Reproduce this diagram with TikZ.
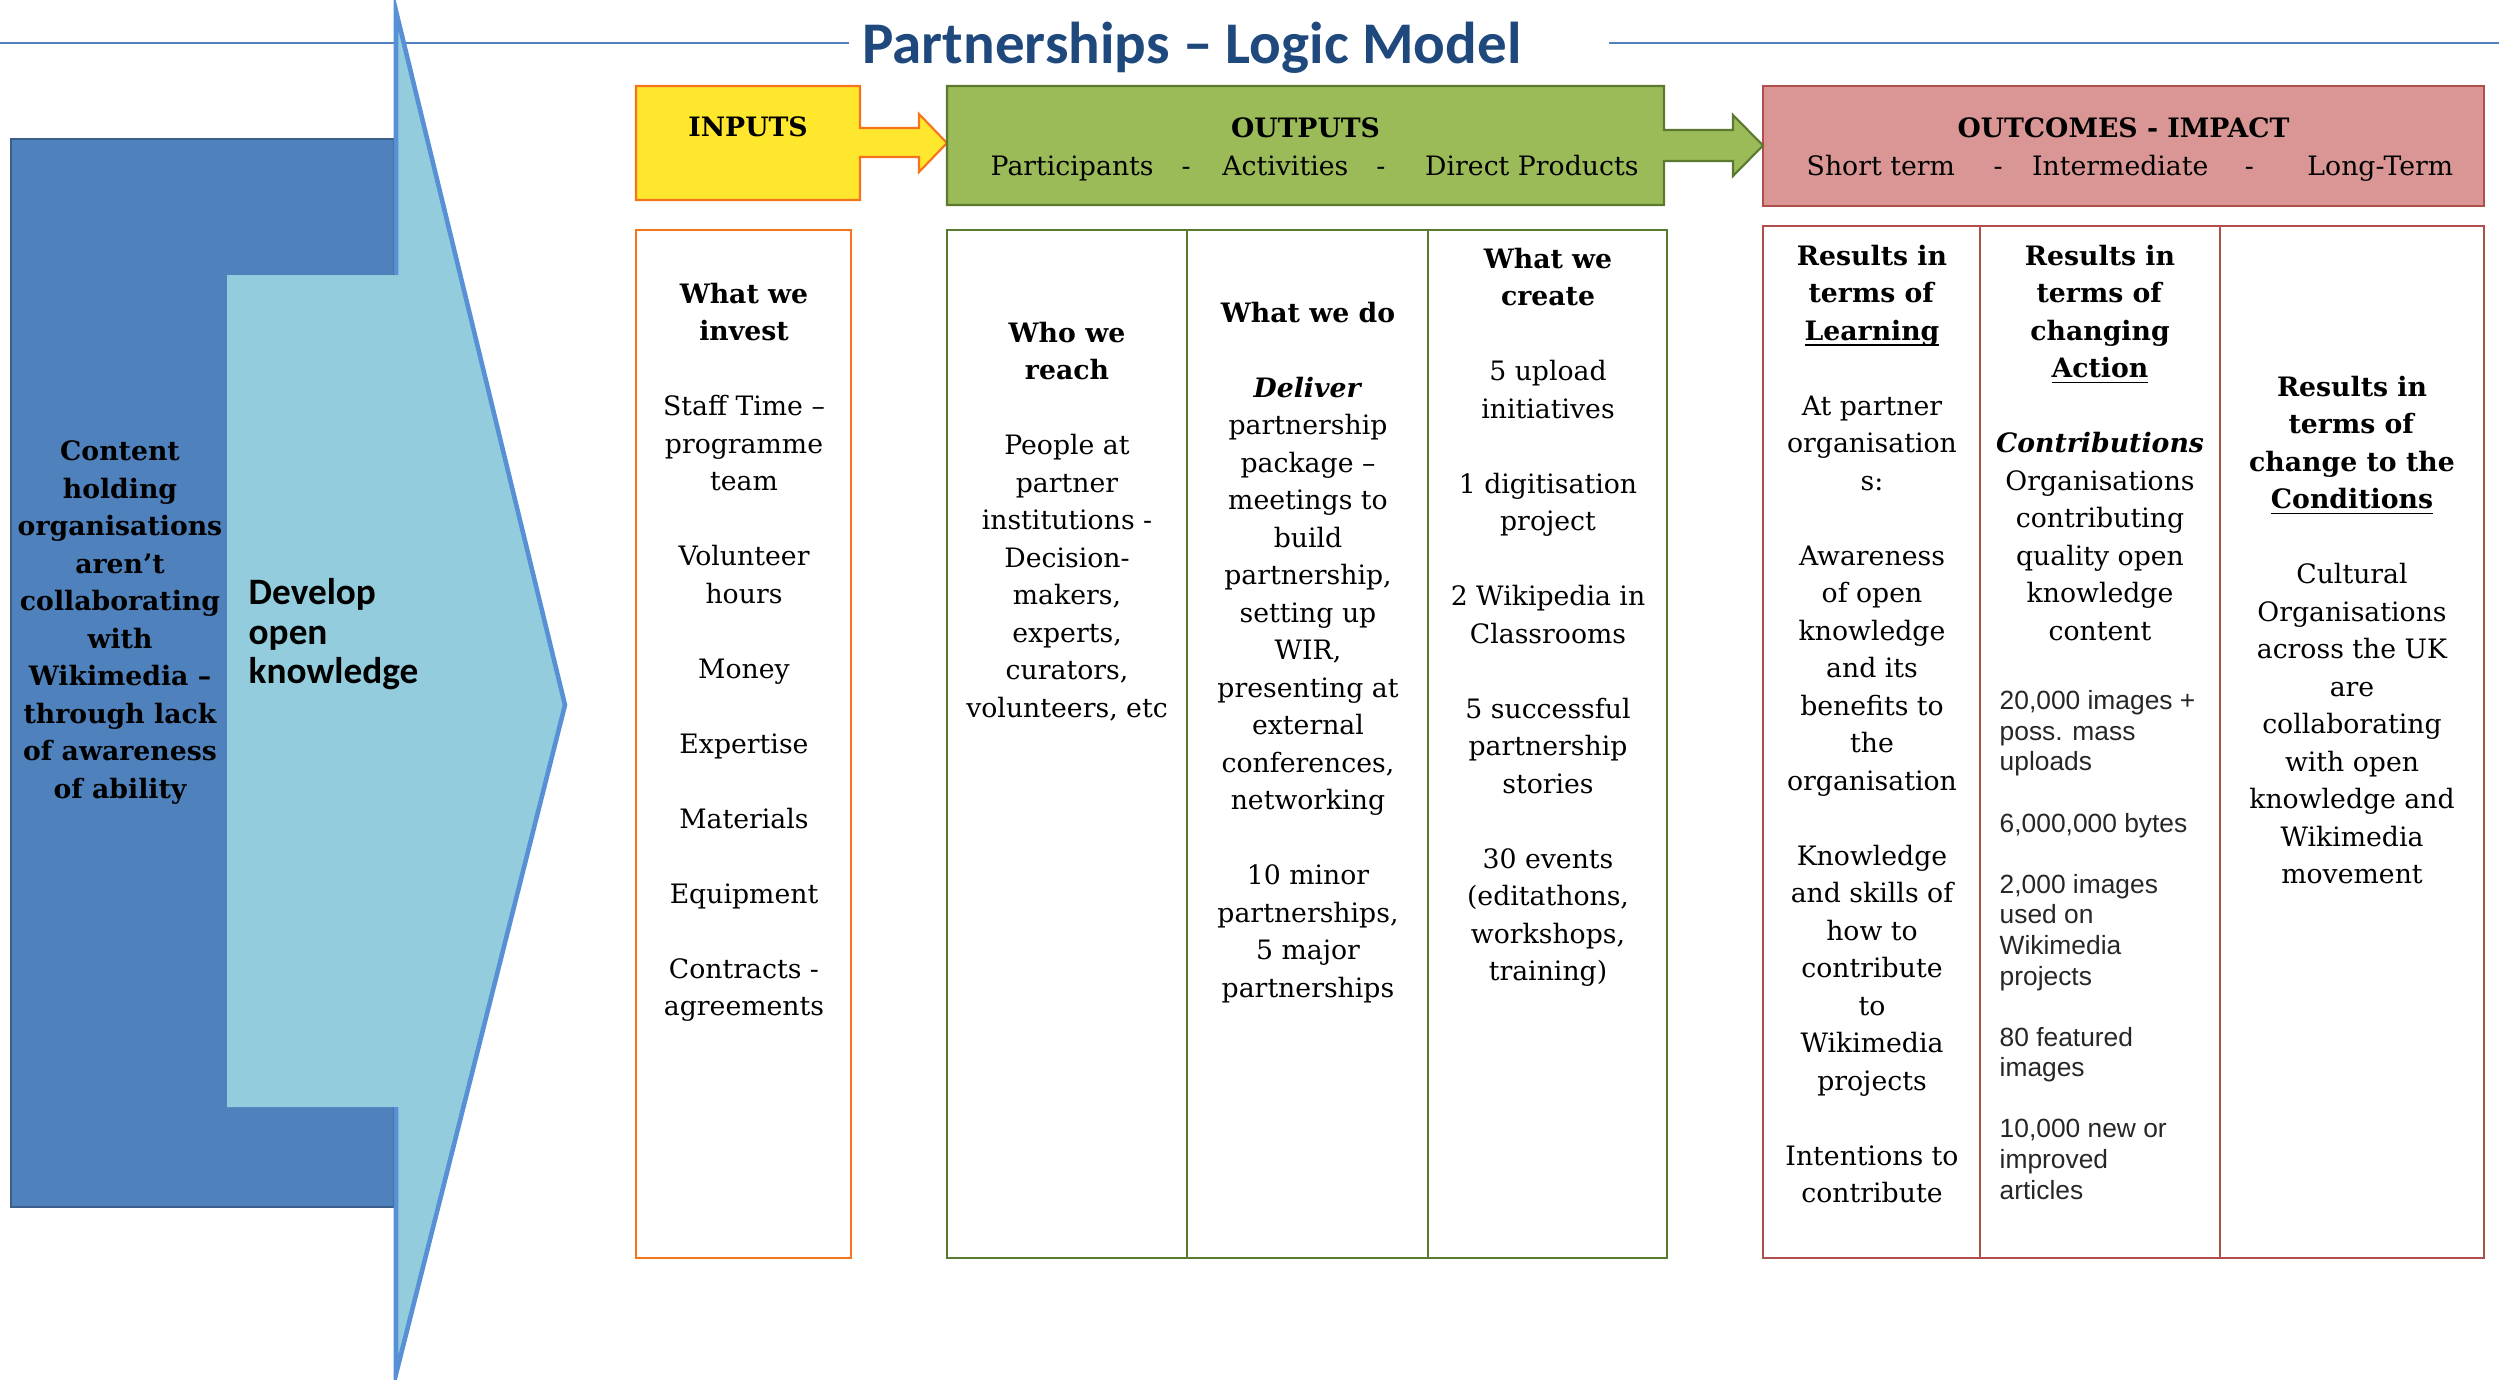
\documentclass[tikz,border=0pt]{standalone}
\usepackage{fontspec}
\setmainfont{DejaVu Serif}
\newfontfamily\calibri[Ligatures=TeX]{Carlito}
\newfontfamily\arial[Ligatures=TeX]{Liberation Sans}
\usetikzlibrary{calc}

\definecolor{titleblue}{HTML}{1F497D}
\definecolor{ruleblue}{HTML}{4F81BD}
\definecolor{darkbox}{HTML}{4F81BD}
\definecolor{darkedge}{HTML}{3A5F8B}
\definecolor{lightbox}{HTML}{93CDDD}
\definecolor{arrowedge}{HTML}{5890D5}
\definecolor{inyellow}{HTML}{FFE72E}
\definecolor{inorange}{HTML}{F7741C}
\definecolor{outgreen}{HTML}{9BBB59}
\definecolor{outedge}{HTML}{5B7A30}
\definecolor{impink}{HTML}{D99694}
\definecolor{imedge}{HTML}{B04E4C}

\newcommand{\bodyfont}{\fontsize{7.6pt}{10.67pt}\selectfont}
\newcommand{\colgap}{\\[10.67pt]}
\newcommand{\figgap}{\\[8.7pt]}
\newcommand{\ulword}[1]{\underline{\smash{#1}}}

\begin{document}
\begin{tikzpicture}[line join=miter,
    header/.style={font=\bodyfont\bfseries, anchor=base, inner sep=0pt},
    subheader/.style={font=\bodyfont, anchor=base west, inner sep=0pt},
    column text/.style={font=\bodyfont, align=center, anchor=north, inner sep=0pt},
    figures/.style={font=\arial\fontsize{7.5pt}{8.7pt}\selectfont, text=black!85, align=left, anchor=north west, inner sep=0pt},
    frame/.style={anchor=north west, inner sep=0pt, outer sep=0pt},
    titlerule/.style={ruleblue, line width=0.6pt},
    incol/.style={draw=inorange, line width=0.7pt},
    outcol/.style={draw=outedge, line width=0.7pt},
    imcol/.style={draw=imedge, line width=0.7pt}
  ]
  \useasboundingbox (0,0) rectangle (24.99,-13.79);

  % title and the rule either side
  \draw[titlerule] (0,-0.43) -- (8.49,-0.43);
  \draw[titlerule] (16.09,-0.43) -- (24.99,-0.43);
  \node[anchor=base, inner sep=0pt, text=titleblue, font=\calibri\bfseries\fontsize{16.8pt}{19pt}\selectfont] (title) at (11.92,-0.63) {Partnerships -- Logic Model};

  % problem box with the big arrow over it
  \draw[fill=darkbox, draw=darkedge, line width=0.6pt] (0.11,-1.39) rectangle (3.94,-12.07);
  \fill[lightbox] (2.27,-2.75) -- (3.96,-2.75) -- (3.96,-0.11) -- (5.65,-7.05) -- (3.96,-13.74) -- (3.96,-11.07) -- (2.27,-11.07) -- cycle;
  \draw[arrowedge, line width=1.3pt] (3.96,-2.75) -- (3.96,-0.11) -- (5.65,-7.05) -- (3.96,-13.74) -- (3.96,-11.07);

  \node[column text, font=\bodyfont\bfseries] (problem) at (1.20,-4.40) {Content\\ holding\\ organisations\\ aren't\\ collaborating\\ with\\ Wikimedia --\\ through lack\\ of awareness\\ of ability};
  \node[anchor=north west, align=left, inner sep=0pt, font=\calibri\bfseries\fontsize{10.6pt}{11.2pt}\selectfont] (develop) at (2.48,-5.78) {Develop\\ open\\ knowledge};

  % header boxes
  \node[frame, minimum width=2.24cm, minimum height=1.14cm] (inputs) at (6.36,-0.86) {};
  \node[frame, minimum width=7.17cm, minimum height=1.19cm] (outputs) at (9.47,-0.86) {};
  \node[frame, minimum width=7.21cm, minimum height=1.20cm, fill=impink, draw=imedge, line width=0.6pt] (outcomes) at (17.63,-0.86) {};

  \draw[fill=inyellow, draw=inorange, line width=0.6pt] (inputs.north west) -- (inputs.north east) -- ++(0,-0.42) -- ++(0.59,0) -- ++(0,0.14)
    -- (inputs.east -| outputs.west) -- ++(-0.28,-0.29) -- ++(0,0.15) -- ++(-0.59,0) -- (inputs.south east) -- (inputs.south west) -- cycle;
  \draw[fill=outgreen, draw=outedge, line width=0.6pt] (outputs.north west) -- (outputs.north east) -- ++(0,-0.44) -- ++(0.69,0) -- ++(0,0.15)
    -- (outputs.east -| outcomes.west) -- ++(-0.30,-0.305) -- ++(0,0.15) -- ++(-0.69,0) -- (outputs.south east) -- (outputs.south west) -- cycle;

  \node[header] (inlabel) at ($(inputs.north)+(0,-0.50)$) {INPUTS};
  \node[header] (outlabel) at ($(outputs.north)+(0,-0.51)$) {OUTPUTS};
  \node[header] (imlabel) at ($(outcomes.north)+(0,-0.51)$) {OUTCOMES - IMPACT};
  \node[subheader] (outsub) at (9.90,-1.75) {Participants\hspace{8pt}-\hspace{9pt}Activities\hspace{8pt}-\hspace{11.3pt}Direct Products};
  \node[subheader] (imsub) at (18.06,-1.75) {Short term\hspace{11pt}-\hspace{8.4pt}Intermediate\hspace{10.4pt}-\hspace{15.2pt}Long-Term};

  % column frames
  \draw[incol] (6.36,-2.30) rectangle (8.51,-12.58);
  \draw[outcol] (9.47,-2.30) rectangle (16.67,-12.58);
  \draw[outcol] (11.87,-2.30) -- (11.87,-12.58);
  \draw[outcol] (14.28,-2.30) -- (14.28,-12.58);
  \draw[imcol] (17.63,-2.26) rectangle (24.84,-12.58);
  \draw[imcol] (19.80,-2.26) -- (19.80,-12.58);
  \draw[imcol] (22.20,-2.26) -- (22.20,-12.58);

  % column texts
  \node[column text] (invest) at (7.44,-2.82) {\textbf{What we}\\ \textbf{invest}\colgap Staff Time --\\ programme\\ team\colgap Volunteer\\ hours\colgap Money\colgap Expertise\colgap Materials\colgap Equipment\colgap Contracts -\\ agreements};
  \node[column text] (reach) at (10.67,-3.21) {\textbf{Who we}\\ \textbf{reach}\colgap People at\\ partner\\ institutions -\\ Decision-\\ makers,\\ experts,\\ curators,\\ volunteers, etc};
  \node[column text] (dowork) at (13.08,-3.01) {\textbf{What we do}\colgap \textbf{\textit{Deliver}}\\ partnership\\ package --\\ meetings to\\ build\\ partnership,\\ setting up\\ WIR,\\ presenting at\\ external\\ conferences,\\ networking\colgap 10 minor\\ partnerships,\\ 5 major\\ partnerships};
  \node[column text] (create) at (15.48,-2.47) {\textbf{What we}\\ \textbf{create}\colgap 5 upload\\ initiatives\colgap 1 digitisation\\ project\colgap 2 Wikipedia in\\ Classrooms\colgap 5 successful\\ partnership\\ stories\colgap 30 events\\ (editathons,\\ workshops,\\ training)};
  \node[column text] (learning) at (18.72,-2.44) {\textbf{Results in}\\ \textbf{terms of}\\ \textbf{\ulword{Learning}}\colgap At partner\\ organisation\\ s:\colgap Awareness\\ of open\\ knowledge\\ and its\\ benefits to\\ the\\ organisation\colgap Knowledge\\ and skills of\\ how to\\ contribute\\ to\\ Wikimedia\\ projects\colgap Intentions to\\ contribute};
  \node[column text] (action) at (21.00,-2.44) {\textbf{Results in}\\ \textbf{terms of}\\ \textbf{changing}\\ \textbf{\ulword{Action}}\colgap \textbf{\textit{Contributions}}\\ Organisations\\ contributing\\ quality open\\ knowledge\\ content};
  \node[figures] (counts) at (19.99,-6.90) {20,000 images +\\ poss. mass\\ uploads\figgap 6,000,000 bytes\figgap 2,000 images\\ used on\\ Wikimedia\\ projects\figgap 80 featured\\ images\figgap 10,000 new or\\ improved\\ articles};
  \node[column text] (conditions) at (23.52,-3.75) {\textbf{Results in}\\ \textbf{terms of}\\ \textbf{change to the}\\ \textbf{\ulword{Conditions}}\colgap Cultural\\ Organisations\\ across the UK\\ are\\ collaborating\\ with open\\ knowledge and\\ Wikimedia\\ movement};
\end{tikzpicture}
\end{document}
